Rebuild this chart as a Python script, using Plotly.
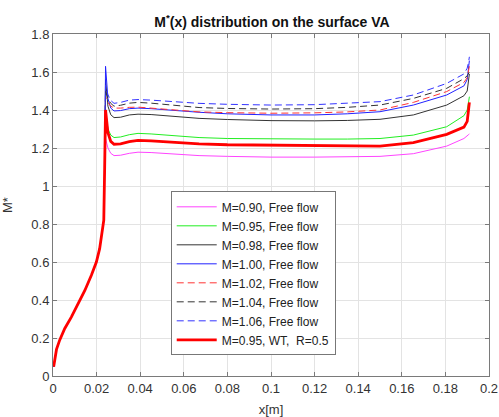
import plotly.graph_objects as go

# shared leading-edge rise (x in m, M*)
x_rise = [0.0003, 0.0008, 0.0016, 0.0031, 0.0054, 0.0084, 0.0115, 0.0146, 0.0176,
          0.0199, 0.0214, 0.0227, 0.0233, 0.0237]
y_rise = [0.049, 0.093, 0.14, 0.19, 0.25, 0.31, 0.38, 0.45, 0.53,
          0.60, 0.67, 0.76, 0.82, 1.10]

# positions along the surface after the leading-edge peak
x_surf = [0.0241, 0.0252, 0.0265, 0.028, 0.031, 0.035, 0.039, 0.045, 0.055, 0.067,
          0.080, 0.100, 0.120, 0.135, 0.150, 0.1653, 0.1806, 0.1885, 0.1900, 0.1906, 0.1910]

m090 = [1.25, 1.20, 1.172, 1.160, 1.162, 1.172, 1.178, 1.176, 1.168, 1.160,
        1.156, 1.152, 1.152, 1.153, 1.156, 1.170, 1.210, 1.250, 1.262, 1.270, 1.275]
m095 = [1.40, 1.30, 1.268, 1.255, 1.258, 1.270, 1.277, 1.274, 1.265, 1.255,
        1.250, 1.247, 1.247, 1.247, 1.250, 1.268, 1.312, 1.370, 1.400, 1.440, 1.470]
m098 = [1.56, 1.42, 1.375, 1.360, 1.362, 1.374, 1.378, 1.376, 1.366, 1.356,
        1.350, 1.344, 1.343, 1.345, 1.351, 1.374, 1.426, 1.475, 1.500, 1.550, 1.590]
m100 = [1.63, 1.46, 1.410, 1.395, 1.397, 1.407, 1.410, 1.407, 1.397, 1.388,
        1.380, 1.374, 1.374, 1.380, 1.391, 1.426, 1.479, 1.527, 1.560, 1.610, 1.660]
m102 = [1.47, 1.44, 1.420, 1.410, 1.410, 1.414, 1.415, 1.410, 1.400, 1.390,
        1.386, 1.383, 1.385, 1.390, 1.400, 1.440, 1.497, 1.545, 1.570, 1.600, 1.630]
m104 = [1.50, 1.46, 1.435, 1.420, 1.425, 1.436, 1.440, 1.436, 1.425, 1.413,
        1.408, 1.405, 1.407, 1.414, 1.426, 1.461, 1.514, 1.565, 1.580, 1.590, 1.600]
m106 = [1.53, 1.48, 1.450, 1.435, 1.440, 1.452, 1.455, 1.452, 1.445, 1.435,
        1.430, 1.426, 1.428, 1.435, 1.444, 1.479, 1.540, 1.590, 1.620, 1.650, 1.680]
wt095 = [1.40, 1.28, 1.235, 1.220, 1.222, 1.234, 1.240, 1.238, 1.230, 1.222,
         1.217, 1.214, 1.214, 1.212, 1.210, 1.228, 1.272, 1.310, 1.340, 1.400, 1.440]

names = ["M=0.90, Free flow", "M=0.95, Free flow", "M=0.98, Free flow", "M=1.00, Free flow",
         "M=1.02, Free flow", "M=1.04, Free flow", "M=1.06, Free flow", "M=0.95, WT,  R=0.5"]
series = [m090, m095, m098, m100, m102, m104, m106, wt095]
colors = ["#ff44ff", "#22ee22", "#333333", "#2222ff", "#ff3333", "#333333", "#3333ff", "#ff0000"]
dashes = ["solid", "solid", "solid", "solid", "7px,4px", "7px,4px", "7px,4px", "solid"]
widths = [1, 1, 1, 1, 1, 1, 1, 2.8]

fig = go.Figure()
for nm, ys, c, d, w in zip(names, series, colors, dashes, widths):
    fig.add_trace(go.Scatter(x=x_rise + x_surf, y=y_rise + ys, mode="lines", name=nm,
                             line=dict(color=c, dash=d, width=w)))

tickfont = dict(family="Liberation Sans", size=13, color="#333333")
axis_common = dict(showgrid=True, gridcolor="#e3e3e3", gridwidth=1,
                   showline=True, linecolor="#7a7a7a", linewidth=1, mirror="ticks",
                   ticks="inside", ticklen=4, tickcolor="#7a7a7a", zeroline=False,
                   tickfont=tickfont, automargin=False)

fig.update_xaxes(range=[0, 0.2], dtick=0.02, tick0=0,
                 title=dict(text="x[m]", font=dict(family="Liberation Sans", size=13, color="#333333")),
                 **axis_common)
fig.update_yaxes(range=[0, 1.8], dtick=0.2, tick0=0,
                 title=dict(text="M*", font=dict(family="Liberation Sans", size=13, color="#333333")),
                 **axis_common)

fig.update_layout(
    width=499, height=417,
    margin=dict(l=53, r=10, t=34, b=41),
    paper_bgcolor="white", plot_bgcolor="white",
    title=dict(text="<b>M<sup>*</sup>(x) distribution on the surface VA</b>",
               x=0.545, xanchor="center", y=0.947, yanchor="middle",
               font=dict(family="Liberation Sans", size=14, color="#111111")),
    legend=dict(x=0.27, y=0.54, xanchor="left", yanchor="top",
                bgcolor="white", bordercolor="#777777", borderwidth=1,
                font=dict(family="Liberation Sans", size=12, color="#222222"),
                tracegroupgap=0, itemwidth=40),
    showlegend=True,
)

fig.write_html("out.html")
